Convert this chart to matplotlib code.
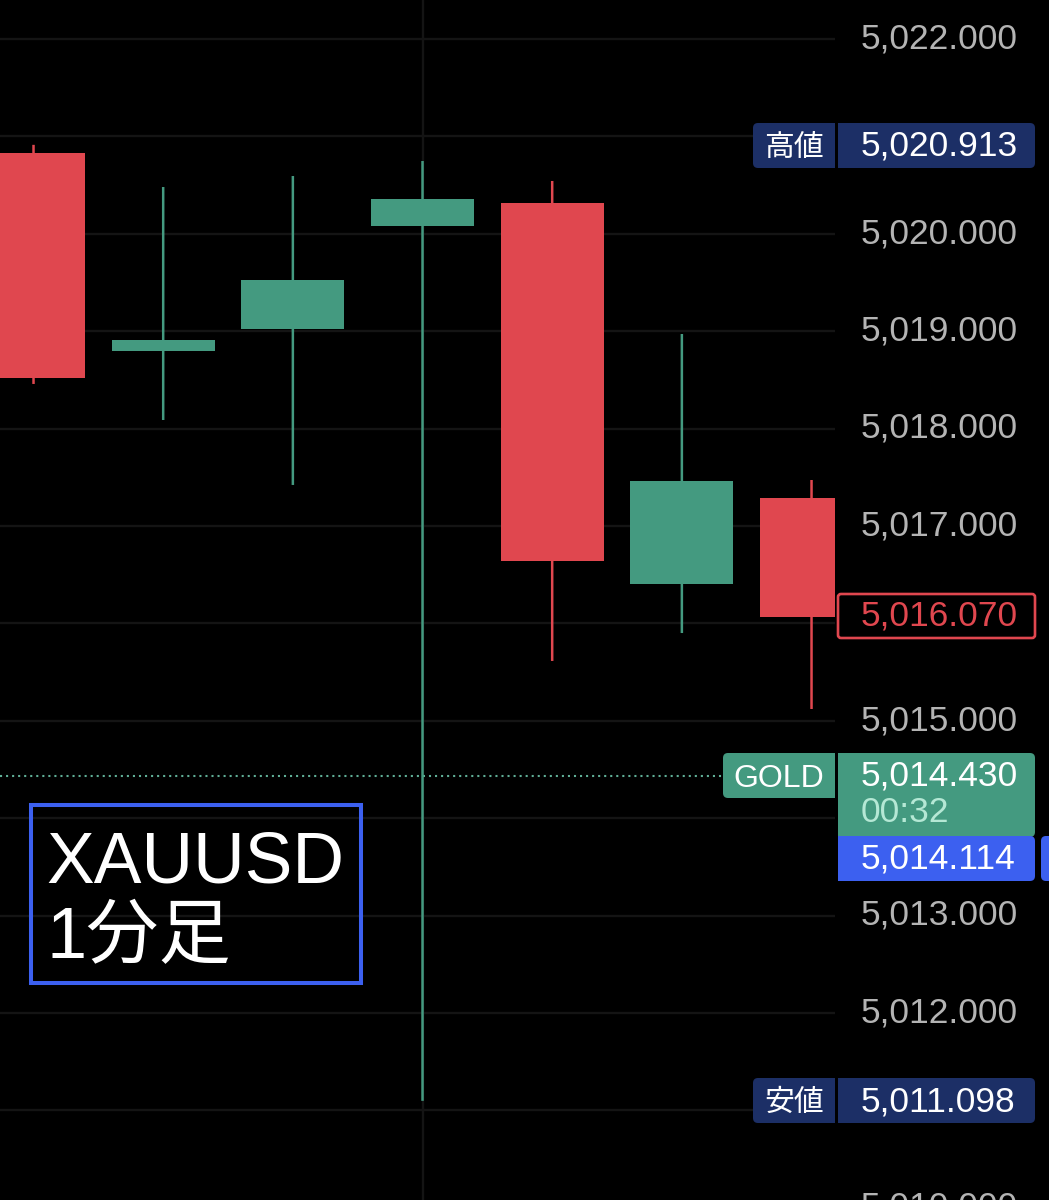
import matplotlib
matplotlib.use('Agg')
import matplotlib.pyplot as plt
from matplotlib.patches import FancyBboxPatch, Rectangle
from matplotlib.transforms import ScaledTranslation

plt.rcParams['font.family'] = ['Liberation Sans', 'Noto Sans CJK JP', 'DejaVu Sans']

# 四本値 (読み取り)
opens = [5020.830, 5018.797, 5019.023, 5020.080, 5020.316, 5016.405, 5017.287]
highs = [5020.913, 5020.480, 5020.593, 5020.747, 5020.542, 5018.971, 5017.472]
lows = [5018.458, 5018.088, 5017.421, 5011.098, 5015.614, 5015.901, 5015.121]
closes = [5018.519, 5018.910, 5019.526, 5020.357, 5016.641, 5017.462, 5016.070]
candle_x = list(range(len(opens)))

price_ticks = [5022, 5021, 5020, 5019, 5018, 5017, 5016, 5015, 5014, 5013, 5012, 5011]
price_labels = ['5,022.000', '', '5,020.000', '5,019.000', '5,018.000', '5,017.000', '',
                '5,015.000', '', '5,013.000', '5,012.000', '']
high_price = 5020.913
low_price = 5011.098
last_close = 5016.070
gold_price = 5014.430
blue_price = 5014.114
countdown = '00:32'

GREEN = '#449A80'
RED = '#E0474F'
NAVY = '#1C2F66'
BLUE = '#3C60F0'
GRID = '#141414'
TICK = '#B4B4B4'

W, H = 1049, 1200
fig = plt.figure(figsize=(W / 100, H / 100), dpi=100, facecolor='black')
ax = fig.add_axes([0, 0, 835 / W, 1], facecolor='black')
ax.set_xlim(-0.2585, 6.181)
ax.set_ylim(5010.08, 5022.40)

# グリッド
ax.set_yticks(price_ticks)
ax.set_yticklabels(price_labels)
ax.set_xticks([3])
ax.set_xticklabels([])
ax.yaxis.tick_right()
ax.tick_params(axis='both', length=0)
ax.tick_params(axis='y', pad=18.7, labelsize=25.5, labelcolor=TICK)
ax.grid(color=GRID, linewidth=1.7)
ax.set_axisbelow(True)
for s in ax.spines.values():
    s.set_visible(False)
# 目盛りの文字は線より少し上
for t in ax.get_yticklabels():
    t.set_transform(t.get_transform() + ScaledTranslation(0, 2.6 / 72, fig.dpi_scale_trans))

# ローソク足
for x, o, h, l, c in zip(candle_x, opens, highs, lows, closes):
    col = GREEN if c >= o else RED
    wick = ax.vlines(x, l, h, color=col, linewidth=1.8, zorder=2)
    wick.set_snap(False)
    ax.bar(x, abs(c - o), bottom=min(o, c), width=0.794, color=col, zorder=3)

ax.axhline(gold_price, color='#5FAE96', linewidth=1.5, linestyle=(0, (1, 1.9)), zorder=1)

# ピクセル座標のオーバーレイ
over = fig.add_axes([0, 0, 1, 1], facecolor='none')
over.set_xlim(0, W)
over.set_ylim(H, 0)
over.axis('off')


def py(price):
    return H - ax.transData.transform((0, price))[1]


def flag(x0, x1, y0, y1, color, side=None):
    r = 5
    over.add_patch(FancyBboxPatch((x0 + r, y0 + r), x1 - x0 - 2 * r, y1 - y0 - 2 * r,
                                  boxstyle=f'round,pad={r},rounding_size={r}',
                                  fc=color, ec='none', zorder=5))
    # 片側だけ角丸にする
    if side == 'left':
        over.add_patch(Rectangle((x0 + r, y0), x1 - x0 - r, y1 - y0, fc=color, ec='none', zorder=5))
    elif side == 'right':
        over.add_patch(Rectangle((x0, y0), x1 - x0 - r, y1 - y0, fc=color, ec='none', zorder=5))


def label(x, y, s, color='white', size=25.5, ha='left'):
    over.text(x, y, s, color=color, fontsize=size, ha=ha, va='center', zorder=6)


def money(p):
    return f'{p:,.3f}'


# 高値 / 安値
for name, price, y0, y1 in [('高値', high_price, 123, 168), ('安値', low_price, 1078, 1123)]:
    flag(753, 835, y0, y1, NAVY, 'left')
    flag(838, 1035, y0, y1, NAVY, 'right')
    label(794, (y0 + y1) / 2 + 2, name, size=21.5, ha='center')
    label(861, (y0 + y1) / 2 + 1, money(price))

# 終値の枠
over.add_patch(FancyBboxPatch((841, 597), 191, 38, boxstyle='round,pad=3,rounding_size=3',
                              fc='black', ec=RED, lw=1.9, zorder=5))
label(861, 616, money(last_close), color=RED)

# GOLD
flag(723, 835, 753, 798, GREEN, 'left')
label(779, 779, 'GOLD', size=23, ha='center')
flag(838, 1035, 753, 837, GREEN, 'right')
label(861, 776, money(gold_price))
label(861, 813, countdown, color='#B5E8D5')

flag(838, 1035, 836, 881, BLUE, 'right')
label(861, 859, money(blue_price))
flag(1041, 1060, 836, 881, BLUE, 'left')

# 下端で切れる目盛り
label(861, py(5010) - 1, '5,010.000', color=TICK)

# 注記
over.add_patch(Rectangle((31, 805), 330, 178, fc='none', ec=BLUE, lw=2.9, zorder=5))
label(46, 864, 'XAUUSD', size=51.5)
label(47, 940, '1分足', size=52)

fig.savefig('out.png', dpi=100, facecolor='black')
